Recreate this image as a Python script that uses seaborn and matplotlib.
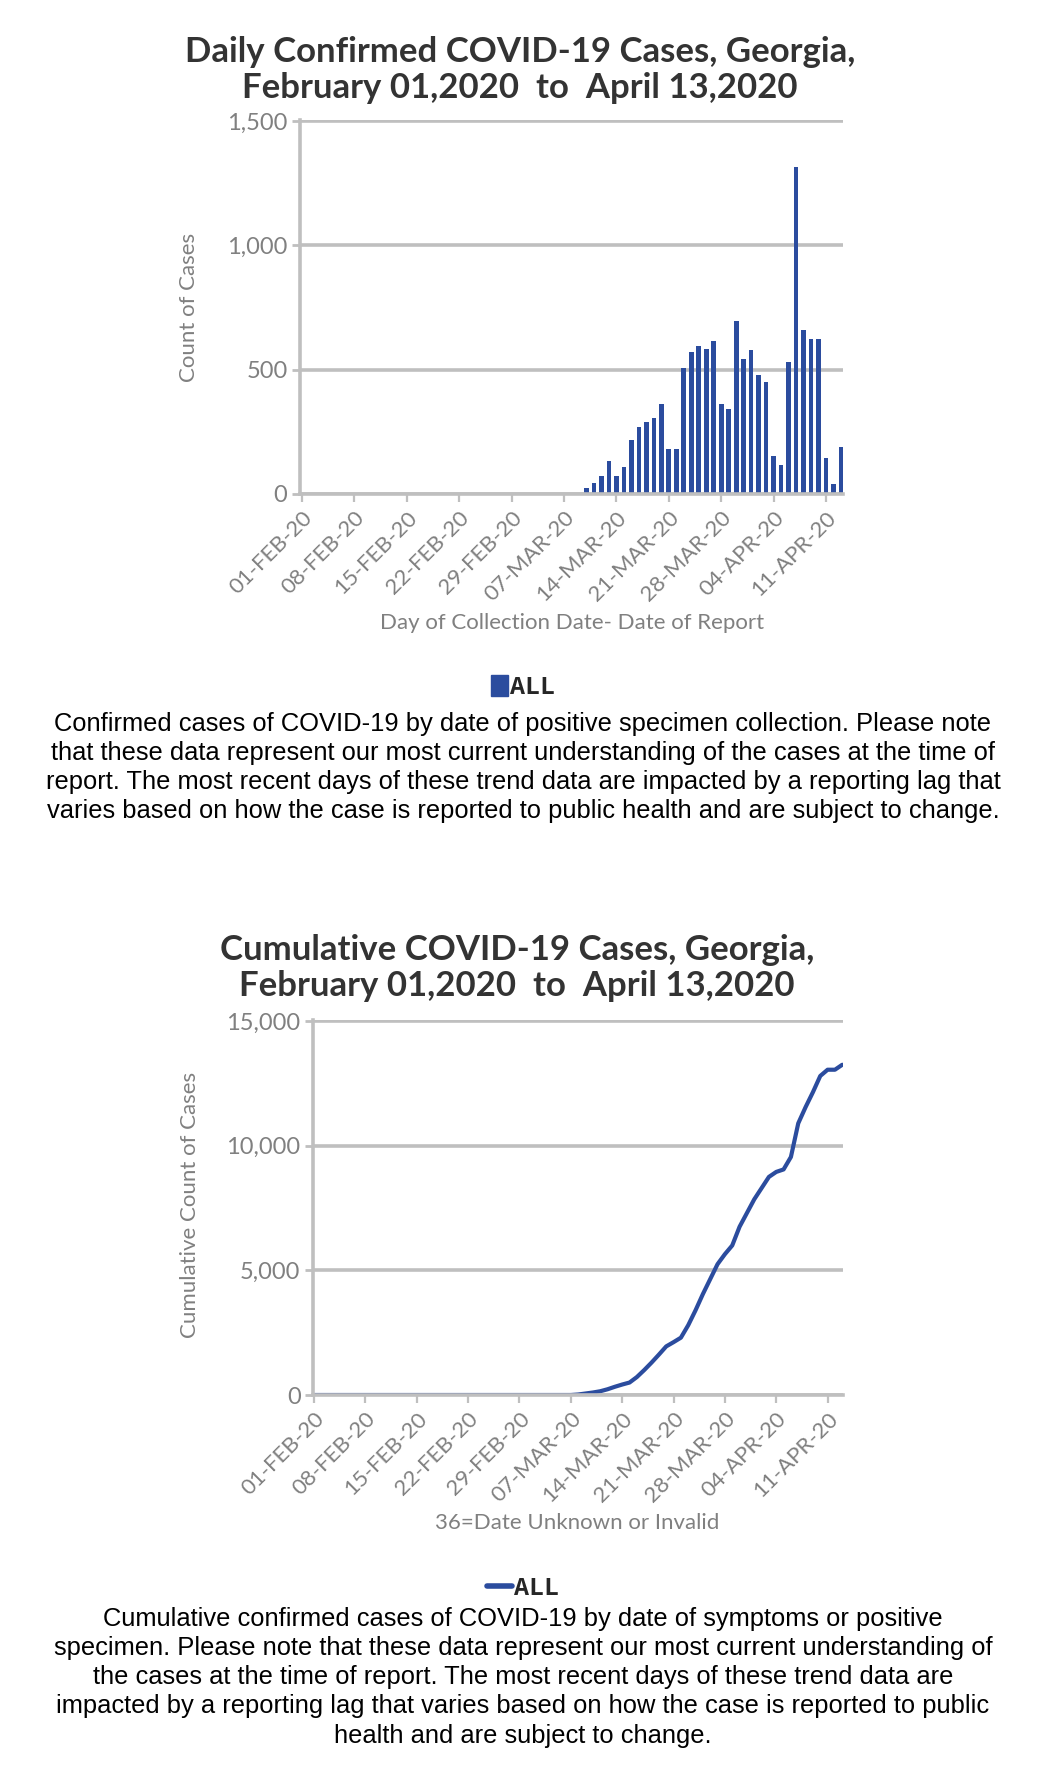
"""
Georgia COVID-19 daily / cumulative confirmed cases, Feb 01 - Apr 13 2020.
Two stacked panels: daily bars on top, cumulative line below, each with a caption.
"""

import matplotlib
matplotlib.use("Agg")
import matplotlib.pyplot as plt
from matplotlib.lines import Line2D
from matplotlib.patches import Patch
from matplotlib.ticker import FuncFormatter
import pandas as pd
import seaborn as sns

# ── Data ───────────────────────────────────────────────────────────────────────
DATES = pd.date_range("2020-02-01", "2020-04-13", freq="D")   # 73 days

TICK_LABELS = ["01-FEB-20", "08-FEB-20", "15-FEB-20", "22-FEB-20", "29-FEB-20",
               "07-MAR-20", "14-MAR-20", "21-MAR-20", "28-MAR-20", "04-APR-20",
               "11-APR-20"]

DAILY = [
    0, 0, 0, 0, 0, 0, 0, 0, 0, 0, 0, 0, 0, 0, 0, 0, 0, 0,          # 01-18 Feb
    0, 0, 0, 0, 0, 0, 0, 0, 0, 0, 0, 0, 0, 0, 0, 0, 0, 0,          # 19 Feb - 07 Mar
    3, 5, 26, 43, 72, 134, 72, 108, 217, 270, 289, 307, 362,       # 08-20 Mar
    180, 180, 507, 570, 596, 582, 614, 362, 342, 696, 543, 579,    # 21 Mar - 01 Apr
    480, 451, 151, 116, 533, 1316, 659, 625, 625, 145, 42, 188,    # 02-13 Apr
]

CUMULATIVE = [
    0, 0, 0, 0, 0, 0, 0, 0, 0, 0, 0, 0, 0, 0, 0, 0, 0, 0,
    0, 0, 0, 0, 0, 0, 0, 0, 0, 0, 0, 0, 0, 0, 0, 0, 0, 0,
    20, 60, 100, 150, 230, 330, 420, 500, 720, 1000, 1300, 1620, 1950,
    2120, 2300, 2800, 3400, 4050, 4650, 5250, 5650, 6000, 6750, 7300, 7850,
    8300, 8750, 8950, 9050, 9550, 10900, 11550, 12150, 12800, 13050, 13050, 13250,
]

DAILY_TICKS = [0, 500, 1000, 1500]
CUM_TICKS = [0, 5000, 10000, 15000]

CAPTION_DAILY = ("Confirmed cases of COVID-19 by date of positive specimen collection. Please note\n"
                 "that these data represent our most current understanding of the cases at the time of\n"
                 "report. The most recent days of these trend data are impacted by a reporting lag that\n"
                 "varies based on how the case is reported to public health and are subject to change.")
CAPTION_CUM = ("Cumulative confirmed cases of COVID-19 by date of symptoms or positive\n"
               "specimen. Please note that these data represent our most current understanding of\n"
               "the cases at the time of report. The most recent days of these trend data are\n"
               "impacted by a reporting lag that varies based on how the case is reported to public\n"
               "health and are subject to change.")

# ── Style ──────────────────────────────────────────────────────────────────────
BLUE = "#2b4c9e"
GRID = "#bfbfbf"
GRAY = "#808080"
TITLE_COLOR = "#333333"

sns.set_style("white")
plt.rcParams["font.family"] = ["Lato", "DejaVu Sans"]

W, H = 1046, 1782
fig = plt.figure(figsize=(W / 100, H / 100), dpi=100)

title_font = dict(family=["Lato", "DejaVu Sans"], fontweight="bold",
                  fontsize=25, color=TITLE_COLOR, ha="center", va="center", linespacing=1.15)
caption_font = dict(family=["Liberation Sans", "DejaVu Sans"], fontsize=18.4, color="black",
                    ha="center", va="top", linespacing=1.27)
legend_font = dict(family=["Liberation Mono", "DejaVu Sans Mono"], weight="bold", size=18)

df = pd.DataFrame({"day": range(len(DATES)), "daily": DAILY, "cum": CUMULATIVE})
tick_pos = list(range(0, len(DATES), 7))


def box(left, top, right, bottom):
    # pixel box -> figure fraction
    return [left / W, 1 - bottom / H, (right - left) / W, (bottom - top) / H]


def style_axes(ax, yticks, xlim):
    ax.set_xlim(*xlim)
    ax.set_ylim(yticks[0], yticks[-1] * 1.003)
    ax.set_yticks(yticks)
    ax.yaxis.set_major_formatter(FuncFormatter(lambda v, _: f"{int(v):,}"))
    ax.set_xticks(tick_pos)
    ax.set_xticklabels(TICK_LABELS, rotation=45, ha="right", rotation_mode="anchor")
    ax.grid(axis="y", color=GRID, lw=2.6)
    ax.grid(axis="x", visible=False)
    ax.set_axisbelow(True)
    for side in ("top", "right"):
        ax.spines[side].set_visible(False)
    for side in ("left", "bottom"):
        ax.spines[side].set_color(GRID)
        ax.spines[side].set_linewidth(2.6)
    ax.tick_params(axis="y", length=6, width=2, color=GRID, labelcolor=GRAY,
                   labelsize=17, pad=3, left=True)
    ax.tick_params(axis="x", length=6, width=1.6, color=GRID, labelcolor=GRAY,
                   labelsize=16, pad=4, bottom=True)
    ax.set_xlabel("")


# ── Daily bars ─────────────────────────────────────────────────────────────────
ax1 = fig.add_axes(box(300, 120, 843, 494))
sns.barplot(data=df, x="day", y="daily", ax=ax1, color=BLUE, saturation=1,
            width=0.62, linewidth=0, edgecolor=BLUE)
style_axes(ax1, DAILY_TICKS, (-0.27, 72.27))
ax1.set_ylabel("Count of Cases", color=GRAY, fontsize=16)
ax1.yaxis.set_label_coords(-0.186, 0.5)

fig.text(520 / W, 1 - 70 / H, "Daily Confirmed COVID-19 Cases, Georgia,\n"
         "February 01,2020  to  April 13,2020", **title_font)
fig.text(572 / W, 1 - 623 / H, "Day of Collection Date- Date of Report",
         color=GRAY, fontsize=16, ha="center", va="center")
fig.legend(handles=[Patch(color=BLUE, label="ALL")], loc="center",
           bbox_to_anchor=(523 / W, 1 - 687 / H), frameon=False, prop=legend_font,
           handlelength=0.7, handleheight=0.9, handletextpad=0.1, borderpad=0)
fig.text(523 / W, 1 - 712 / H, CAPTION_DAILY, **caption_font)

# ── Cumulative line ────────────────────────────────────────────────────────────
ax2 = fig.add_axes(box(313, 1020, 843, 1395))
sns.lineplot(data=df, x="day", y="cum", ax=ax2, color=BLUE, lw=3)
style_axes(ax2, CUM_TICKS, (-0.15, 72.1))
ax2.set_ylabel("Cumulative Count of Cases", color=GRAY, fontsize=16)
ax2.yaxis.set_label_coords(-0.213, 0.507)

fig.text(517 / W, 1 - 968 / H, "Cumulative COVID-19 Cases, Georgia,\n"
         "February 01,2020  to  April 13,2020", **title_font)
fig.text(577 / W, 1 - 1523 / H, "36=Date Unknown or Invalid",
         color=GRAY, fontsize=16, ha="center", va="center")
fig.legend(handles=[Line2D([], [], color=BLUE, lw=4, label="ALL")], loc="center",
           bbox_to_anchor=(523 / W, 1 - 1588 / H), frameon=False, prop=legend_font,
           handlelength=1.0, handletextpad=0.1, borderpad=0)
fig.text(523 / W, 1 - 1607 / H, CAPTION_CUM, **caption_font)

fig.savefig("out.png", dpi=100)
print("saved out.png")
